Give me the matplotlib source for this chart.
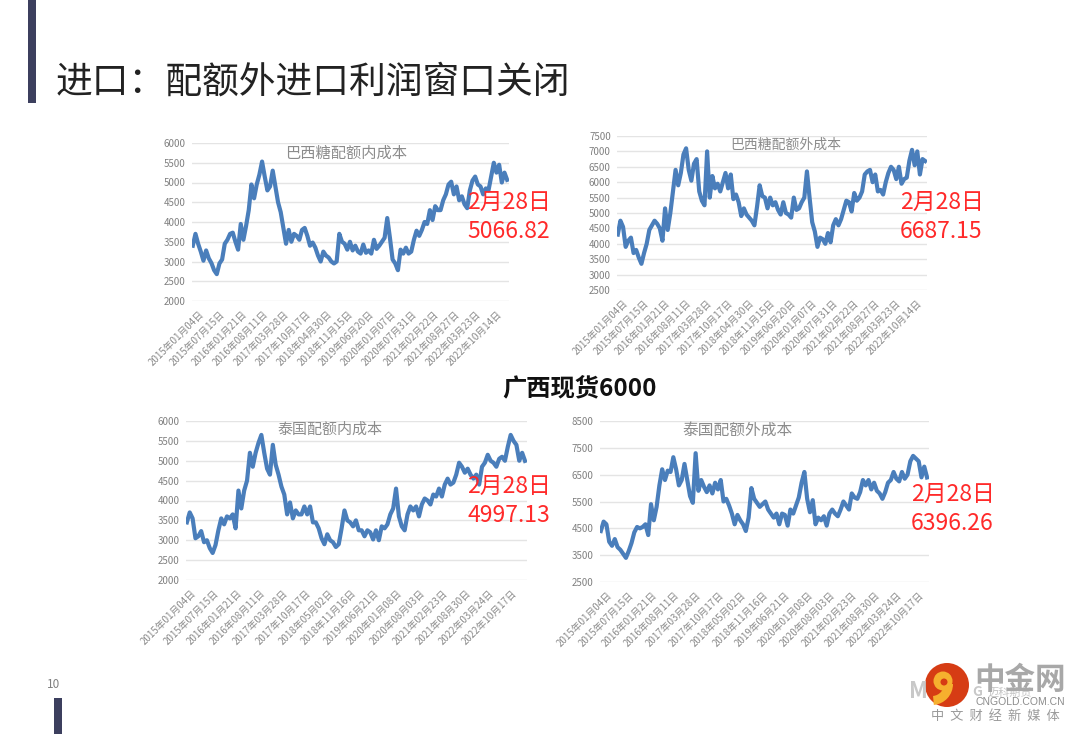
import matplotlib
matplotlib.use("Agg")
import matplotlib.pyplot as plt
from matplotlib.patches import Rectangle, Circle, Wedge
from matplotlib.transforms import ScaledTranslation
import numpy as np

plt.rcParams['font.family'] = ['Noto Sans CJK SC', 'DejaVu Sans']

labels_a = ["2015年01月04日","2015年07月15日","2016年01月21日","2016年08月11日","2017年03月28日",
            "2017年10月17日","2018年04月30日","2018年11月15日","2019年06月20日","2020年01月07日",
            "2020年07月31日","2021年02月22日","2021年08月27日","2022年03月23日","2022年10月14日"]
labels_b = ["2015年01月04日","2015年07月15日","2016年01月21日","2016年08月11日","2017年03月28日",
            "2017年10月17日","2018年05月02日","2018年11月16日","2019年06月21日","2020年01月08日",
            "2020年08月03日","2021年02月23日","2021年08月30日","2022年03月24日","2022年10月17日"]

brazil_in = [3400,3700,3450,3250,3020,3280,3080,2960,2780,2680,2950,3050,3450,3550,3700,3730,3500,3300,3950,3550,
             3900,4300,4950,4600,4950,5200,5530,5150,4800,4900,5300,4900,4500,4250,3850,3450,3800,3500,3700,3650,
             3550,3800,3850,3650,3400,3480,3350,3150,3000,3250,3150,3100,3000,2950,3000,3700,3500,3450,3300,3500,
             3280,3400,3250,3200,3430,3220,3280,3200,3550,3320,3400,3500,3600,4100,3600,3050,2950,2780,3300,3200,
             3350,3200,3250,3550,3780,3650,3800,4000,3950,4300,4050,4400,4300,4300,4550,4700,4950,5020,4700,4900,
             4550,4650,4450,4350,4800,5050,5150,4950,4900,4700,4850,4800,5150,5500,5250,5450,5000,5250,5067]
brazil_out = [4300,4750,4550,3900,4100,4200,3700,3800,3550,3350,3700,4000,4450,4600,4750,4650,4500,4100,5150,4450,
              5000,5700,6400,5900,6300,6900,7100,6400,6050,6600,6750,5700,5400,5250,7000,5500,6200,5800,5950,5700,
              6000,6300,5800,6250,5450,5600,5350,4900,5150,4950,4850,4750,4600,5200,5900,5550,5500,5150,5500,5250,
              5350,5100,4950,5350,5000,4950,4850,5500,5100,5150,5350,5500,6350,5500,4700,4400,3900,4200,4150,4000,
              4350,4050,4600,4800,4600,4800,5100,5400,5350,5050,5650,5400,5500,5700,6250,6350,6400,6000,6250,5700,
              5750,5600,6000,6300,6500,6400,6100,6500,5950,6100,6150,6700,7050,6550,7000,6250,6750,6687]
thai_in = [3450,3700,3550,3050,3100,3230,2950,3000,2800,2680,2880,3250,3550,3400,3600,3550,3650,3300,4250,3800,
           4250,4500,5200,4850,5200,5450,5650,5200,4800,4650,5400,4900,4650,4350,4150,3650,3950,3550,3750,3650,
           3650,3850,3650,3850,3450,3450,3300,3050,2900,3150,3000,2950,2830,2900,3300,3750,3500,3450,3350,3500,
           3250,3250,3100,3250,3200,3020,3250,3000,3350,3300,3400,3650,3800,4300,3600,3350,3250,3650,3850,3750,
           3850,3600,3900,4050,4000,3900,4150,4100,4300,4100,4400,4550,4400,4450,4650,4950,4850,4700,4800,4650,
           4550,4650,4400,4850,4950,5150,5000,4950,4850,5050,5100,5000,5350,5650,5500,5400,5000,5200,4997]
thai_out = [4400,4750,4650,4000,3850,4100,3800,3700,3550,3400,3650,3950,4350,4550,4500,4550,4650,4250,5400,4800,
            5300,6100,6700,6300,6650,6600,7150,6700,6100,6300,6900,6300,5700,5450,7300,5900,6300,6050,5850,6100,
            5800,6200,5950,6300,5500,5600,5350,5050,4650,5000,4800,4650,4400,4900,6000,5600,5450,5300,5400,5500,
            5200,5050,4900,5050,4650,5050,5000,4600,5200,5050,5350,5650,6200,6600,5600,5100,5550,4650,4900,4800,
            4950,4600,5050,5200,5050,4950,5200,5500,5350,5200,5800,5650,5600,5850,6300,6100,6300,5950,6200,5900,
            5800,5600,5850,6200,6300,6600,6350,6250,6600,6350,6500,7000,7200,7100,7000,6400,6800,6396]

titles = ["巴西糖配额内成本", "巴西糖配额外成本", "泰国配额内成本", "泰国配额外成本"]
dates = ["2月28日"] * 4
latest = ["5066.82", "6687.15", "4997.13", "6396.26"]
yticks = [list(range(2000, 6001, 500)), list(range(2500, 7501, 500)),
          list(range(2000, 6001, 500)), list(range(2500, 8501, 1000))]

W, H = 1080, 734
fig = plt.figure(figsize=(W/100, H/100), dpi=100, facecolor="white")

def px_axes(x0, x1, ytop, ybot):
    return fig.add_axes([x0/W, 1-ybot/H, (x1-x0)/W, (ybot-ytop)/H])

boxes = [(192, 509, 143, 301), (617, 927, 136, 290), (186, 527, 421, 580), (600, 929, 421, 582)]
series = [brazil_in, brazil_out, thai_in, thai_out]
ticklabels = [labels_a, labels_a, labels_b, labels_b]
title_pos = [(346, 153), (786, 145), (330, 430), (738, 430)]
title_size = [11, 10, 10.8, 11.3]
note_pos = [(467, 202, 231), (900, 202, 231), (467, 486, 515), (911, 494, 523)]
label_shift = [6, 5, 4, 6]
tick_step = 8

for box, vals, labs, yt, shift in zip(boxes, series, ticklabels, yticks, label_shift):
    ax = px_axes(*box)
    ax.plot(np.arange(len(vals)), vals, color="#4a7ebb", lw=3, solid_joinstyle="round")
    ax.set_xlim(-0.3, len(vals) - 0.3)
    ax.set_ylim(yt[0], yt[-1])
    ax.set_yticks(yt)
    ax.set_xticks(np.arange(len(labs)) * tick_step)
    ax.set_xticklabels(labs, rotation=45, ha="right", va="top", rotation_mode="anchor",
                       fontsize=7, color="#8a8a8a")
    ax.tick_params(axis="y", length=0, labelsize=7, labelcolor="#808080", pad=4.5)
    ax.tick_params(axis="x", length=0, pad=6)
    offset = ScaledTranslation(shift/100, 0, fig.dpi_scale_trans)
    for lab in ax.get_xticklabels():
        lab.set_transform(lab.get_transform() + offset)
    ax.grid(axis="y", color="#e4e4e4", lw=1)
    ax.set_axisbelow(True)
    for s in ax.spines.values():
        s.set_visible(False)
    ax.patch.set_alpha(0)

ov = fig.add_axes([0, 0, 1, 1], zorder=10)
ov.set_xlim(0, W)
ov.set_ylim(H, 0)
ov.axis("off")

ov.add_patch(Rectangle((28, 0), 8, 103, color="#3c3f5e", lw=0))
ov.add_patch(Rectangle((54, 698), 8, 36, color="#3c3f5e", lw=0))
ov.text(56, 82, "进口：配额外进口利润窗口关闭", fontsize=26.5, color="#222222", va="center", ha="left")
ov.text(54, 685, "10", fontsize=8.5, color="#808080", va="center", ha="center")
ov.text(580, 388, "广西现货6000", fontsize=17.5, fontweight="bold", color="#111111", va="center", ha="center")

for (tx, ty), t, fs in zip(title_pos, titles, title_size):
    ov.text(tx, ty, t, fontsize=fs, color="#8c8c8c", va="center", ha="center")
for (nx, y1, y2), d, v in zip(note_pos, dates, latest):
    ov.text(nx, y1, d, fontsize=16.5, color="#ff2a2a", va="center", ha="left")
    ov.text(nx, y2, v, fontsize=16.5, color="#ff2a2a", va="center", ha="left")

# logo
ov.text(918, 691, "M", fontsize=16, style="italic", fontweight="bold", color="#c8c8c8", va="center", ha="center")
ov.text(977, 692, "G", fontsize=10, style="italic", fontweight="bold", color="#c8c8c8", va="center", ha="center")
ov.text(1010, 693, "迈科期货", fontsize=8, color="#c4c4c4", va="center", ha="center")
ov.add_patch(Circle((947, 685), 22, color="#d63c14", lw=0))
ov.add_patch(Wedge((932, 684), 21, 0, 85, width=9, color="#f6b02e", lw=0))
ov.add_patch(Circle((943, 681), 9.5, color="#f6b02e", lw=0))
ov.add_patch(Circle((944, 682), 3.5, color="#d63c14", lw=0))
ov.text(1020, 680, "中金网", fontsize=22, fontweight="bold", color="#a8a8a8", va="center", ha="center")
ov.text(1020, 702, "CNGOLD.COM.CN", fontsize=7.5, color="#8c8c8c", va="center", ha="center", family="Liberation Sans")
ov.text(995, 716, "中  文  财  经  新  媒  体", fontsize=9.5, color="#9a9a9a", va="center", ha="center")

fig.savefig("out.png", dpi=100)
